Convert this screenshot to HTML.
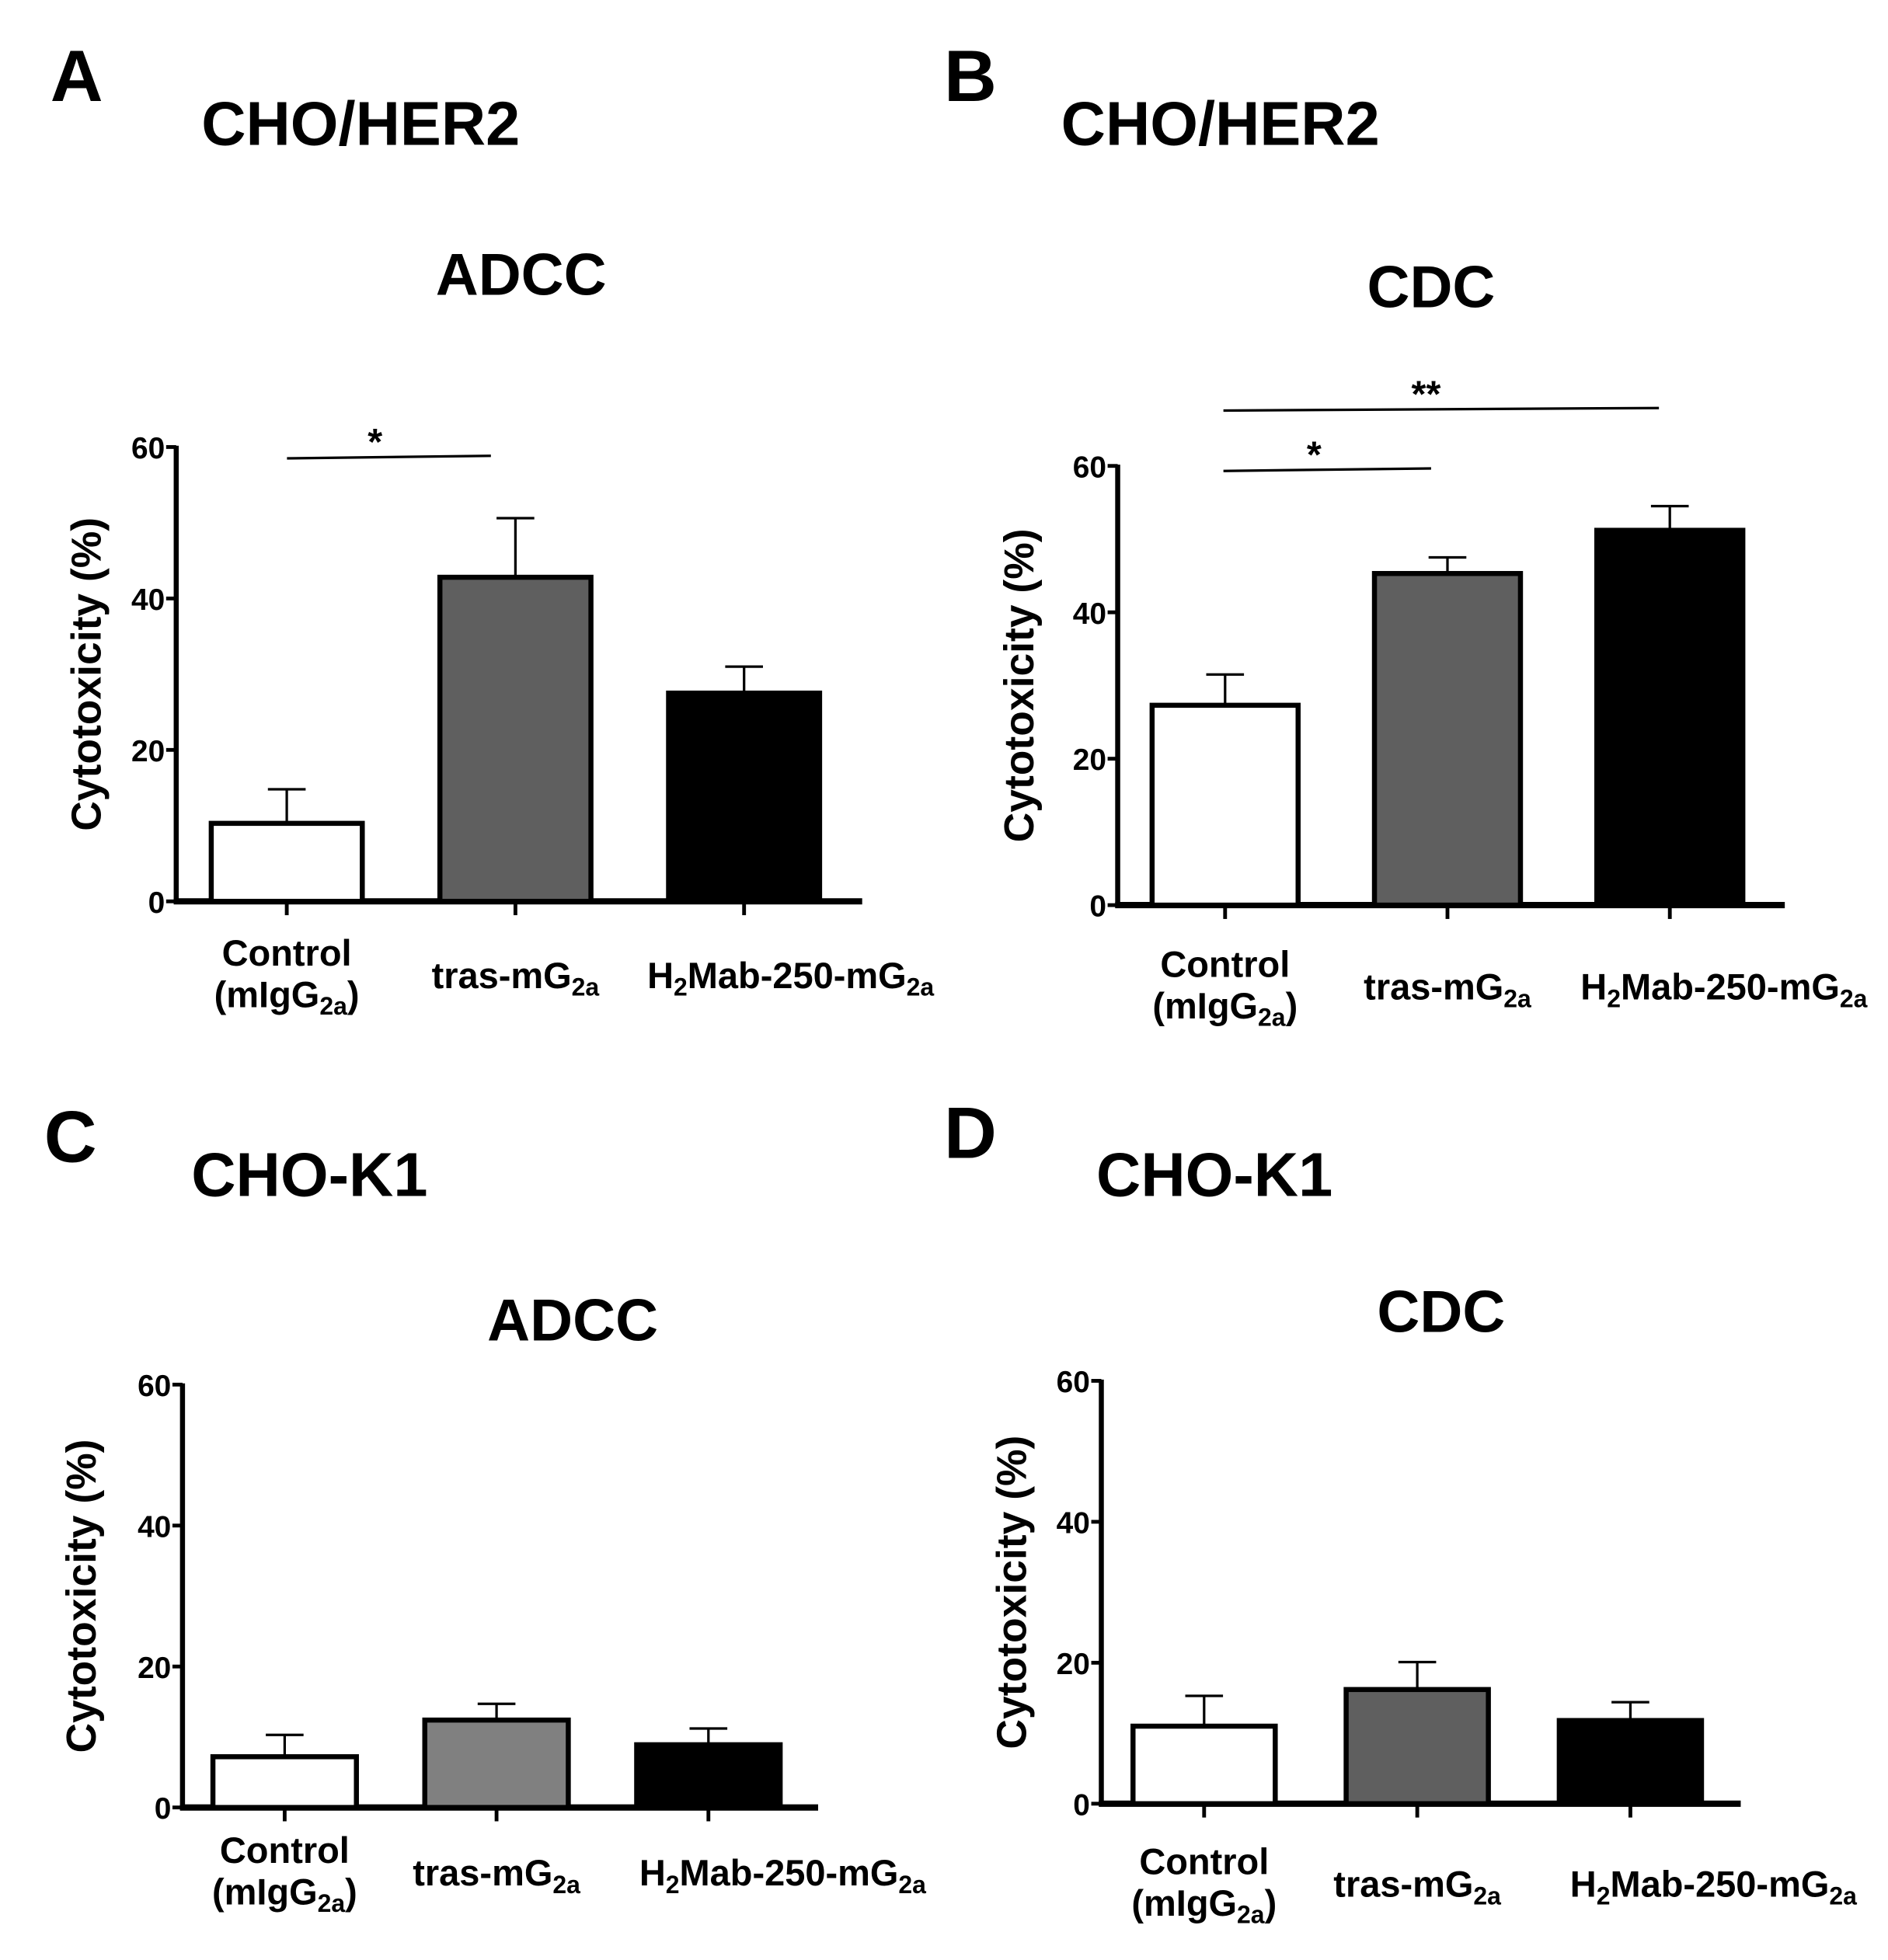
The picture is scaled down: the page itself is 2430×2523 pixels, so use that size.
<!DOCTYPE html>
<html><head><meta charset="utf-8"><title>Cytotoxicity panels</title>
<style>
html,body{margin:0;padding:0;background:#fff;}
svg{display:block;}
.big{font-family:"Liberation Sans",sans-serif;font-weight:bold;}
.nar{font-family:"Liberation Sans Narrow","Liberation Sans",sans-serif;font-weight:bold;}
</style></head>
<body>
<svg id="fig" width="2430" height="2523" viewBox="0 0 1500 1557" xmlns="http://www.w3.org/2000/svg">
<rect width="1500" height="1557" fill="#fff"/>
<text class="big" x="40" y="80" font-size="58">A</text>
<text class="big" x="160" y="115" font-size="49">CHO/HER2</text>
<text class="big" x="414" y="234" font-size="47" text-anchor="middle">ADCC</text>
<text class="big" x="750" y="80" font-size="58">B</text>
<text class="big" x="843" y="115" font-size="49">CHO/HER2</text>
<text class="big" x="1137" y="244" font-size="47" text-anchor="middle">CDC</text>
<text class="big" x="35" y="923" font-size="58">C</text>
<text class="big" x="152" y="950" font-size="49">CHO-K1</text>
<text class="big" x="455" y="1065" font-size="47" text-anchor="middle">ADCC</text>
<text class="big" x="750" y="920" font-size="58">D</text>
<text class="big" x="871" y="950" font-size="49">CHO-K1</text>
<text class="big" x="1145" y="1058" font-size="47" text-anchor="middle">CDC</text>
</svg>
<script>
const categories = ["Control", "tras-mG2a", "H2Mab-250-mG2a"];
const yTicks = [0, 20, 40, 60];
const valuesA = [10.3, 42.8, 27.5];
const errorsA = [4.5, 7.8, 3.5];
const valuesB = [27.3, 45.3, 51.2];
const errorsB = [4.2, 2.2, 3.3];
const valuesC = [7.2, 12.4, 8.9];
const errorsC = [3.1, 2.3, 2.3];
const valuesD = [11.0, 16.2, 11.8];
const errorsD = [4.3, 3.9, 2.6];
const fillsDark = ["#ffffff", "#5f5f5f", "#000000"];
const fillsLight = ["#ffffff", "#808080", "#000000"];

const NS = "http://www.w3.org/2000/svg";
const svg = document.getElementById("fig");
function mk(tag, attrs, parent) {
  const e = document.createElementNS(NS, tag);
  for (const k in attrs) e.setAttribute(k, attrs[k]);
  (parent || svg).appendChild(e);
  return e;
}
function catLabel(g, i, cx, y1, fs) {
  if (i === 0) {
    const t = mk("text", {x: cx, y: y1, "font-size": fs, "text-anchor": "middle", class: "nar"}, g);
    
    
    t.textContent = "Control";
    const t2 = mk("text", {x: cx, y: y1 + 33, "font-size": fs, "text-anchor": "middle", class: "nar"}, g);
    
    
    t2.appendChild(document.createTextNode("(mIgG"));
    const s = mk("tspan", {"font-size": fs * 0.68, dy: 6}, t2); s.textContent = "2a";
    const s2 = mk("tspan", {dy: -6}, t2); s2.textContent = ")";
  } else {
    const t = mk("text", {x: cx, y: y1 + 18, "font-size": fs, "text-anchor": "middle", class: "nar"}, g);
    
    
    if (i === 2) {
      t.appendChild(document.createTextNode("H"));
      const a = mk("tspan", {"font-size": fs * 0.68, dy: 6}, t); a.textContent = "2";
      const b = mk("tspan", {dy: -6}, t); b.textContent = "Mab-250-mG";
    } else {
      t.appendChild(document.createTextNode("tras-mG"));
    }
    const c = mk("tspan", {"font-size": fs * 0.68, dy: 6}, t); c.textContent = "2a";
  }
}
function panel(p) {
  const g = mk("g", {});
  
  
  const y = v => p.y0 - (v / 60) * (p.y0 - p.y60);
  const ax = mk("line", {x1: p.ax, y1: p.y60 - 1, x2: p.ax, y2: p.y0 + 2, stroke: "#000", "stroke-width": 4}, g);
  
  
  yTicks.forEach(t => {
    const tk = mk("line", {x1: p.ax - 8, y1: y(t), x2: p.ax, y2: y(t), stroke: "#000", "stroke-width": 3}, g);
    
    
    const tl = mk("text", {x: p.ax - 9, y: y(t) + 9, "font-size": 24, "text-anchor": "end", class: "nar"}, g);
    
    
    tl.textContent = t;
  });
  const xl = mk("line", {x1: p.ax - 2, y1: p.y0, x2: p.axEnd, y2: p.y0, stroke: "#000", "stroke-width": 5}, g);
  
  
  const yl = mk("text", {x: 0, y: 0, "font-size": 33, "text-anchor": "middle", class: "big",
    transform: `translate(${p.ylx},${(p.y0 + p.y60) / 2}) rotate(-90)`}, g);
  
  
  yl.textContent = "Cytotoxicity (%)";
  const step = (p.axEnd - p.ax) / 3;
  p.values.forEach((v, i) => {
    const cx = p.ax + step * (i + 0.5) + p.shift;
    const w = p.bw;
    const top = y(v + p.errors[i]);
    const eb = mk("line", {x1: cx, y1: y(v), x2: cx, y2: top, stroke: "#000", "stroke-width": 2}, g);
    
    
    const cap = mk("line", {x1: cx - 15, y1: top, x2: cx + 15, y2: top, stroke: "#000", "stroke-width": 2}, g);
    
    
    const r = mk("rect", {x: cx - w / 2, y: y(v), width: w, height: p.y0 - y(v), fill: p.fills[i], stroke: "#000", "stroke-width": 4}, g);
    
    
    const tk = mk("line", {x1: cx, y1: p.y0, x2: cx, y2: p.y0 + 11, stroke: "#000", "stroke-width": 3}, g);
    
    
    catLabel(g, i, i === 2 ? cx + p.h2off : cx, p.labY, 29);
  });
  (p.sig || []).forEach(s => {
    const l = mk("line", {x1: s[0], y1: s[2], x2: s[1], y2: s[2] - 2, stroke: "#000", "stroke-width": 2}, g);
    
    
    const t = mk("text", {x: s[3], y: s[2] - 3, "font-size": 30, "text-anchor": "middle", class: "big"}, g);
    
    
    t.textContent = s[4];
  });
}
panel({name: "panel-a-chart", ax: 140, axEnd: 685, y0: 716, y60: 355, bw: 120, shift: -3, values: valuesA, errors: errorsA, fills: fillsDark,
  ylx: 80, labY: 767, h2off: 37, sig: [[228, 390, 364, 298, "*"]]});
panel({name: "panel-b-chart", ax: 888, axEnd: 1418, y0: 719, y60: 370, bw: 116, shift: -3, values: valuesB, errors: errorsB, fills: fillsDark,
  ylx: 821, labY: 776, h2off: 43, sig: [[972, 1137, 374, 1044, "*"], [972, 1318, 326, 1133, "**"]]});
panel({name: "panel-c-chart", ax: 145, axEnd: 650, y0: 1436, y60: 1100, bw: 114, shift: -3, values: valuesC, errors: errorsC, fills: fillsLight,
  ylx: 76, labY: 1480, h2off: 59});
panel({name: "panel-d-chart", ax: 875, axEnd: 1383, y0: 1433, y60: 1097, bw: 113, shift: -3, values: valuesD, errors: errorsD, fills: fillsDark,
  ylx: 815, labY: 1489, h2off: 66});
</script>
</body></html>
